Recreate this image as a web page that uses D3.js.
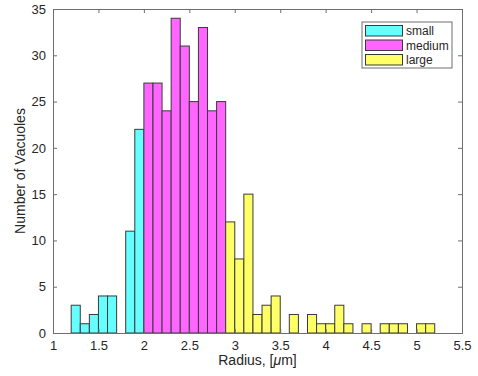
<!DOCTYPE html>
<html>
<head>
<meta charset="utf-8">
<script src="https://cdn.jsdelivr.net/npm/d3@7"></script>
<style>
  body { margin: 0; background: #fff; }
  text { font-family: Arial, "Liberation Sans", Helvetica, sans-serif; }
</style>
</head>
<body>
<div id="chart"></div>
<script>
// Histogram bins are 0.1 wide, each group starts at its own left edge
const binWidth = 0.1;
const smallStart = 1.2;
const smallCounts = [3, 1, 2, 4, 4, 0, 11, 22];
const mediumStart = 2.0;
const mediumCounts = [27, 27, 24, 34, 31, 25, 33, 24, 25];
const largeStart = 2.9;
const largeCounts = [12, 8, 15, 2, 3, 4, 0, 2, 0, 2, 1, 1, 3, 1, 0, 1, 0, 1, 1, 1, 0, 1, 1];

const groupNames = ['small', 'medium', 'large'];
const groupColors = ['#66ffff', '#ff66ff', '#ffff66'];

const xTicks = [1, 1.5, 2, 2.5, 3, 3.5, 4, 4.5, 5, 5.5];
const yTicks = [0, 5, 10, 15, 20, 25, 30, 35];

const width = 478, height = 376;
const margin = { top: 9, right: 16, bottom: 43, left: 53 };

const svg = d3.select('#chart').append('svg')
    .attr('width', width)
    .attr('height', height);

const x = d3.scaleLinear().domain([1, 5.5]).range([margin.left, width - margin.right]);
const y = d3.scaleLinear().domain([0, 35]).range([height - margin.bottom, margin.top]);

// construir los bins
function toBins(start, counts, group) {
    return counts.map((c, i) => ({
        x0: +(start + i * binWidth).toFixed(2),
        x1: +(start + (i + 1) * binWidth).toFixed(2),
        count: c,
        group: group
    }));
}
const groups = [
    toBins(smallStart, smallCounts, 0),
    toBins(mediumStart, mediumCounts, 1),
    toBins(largeStart, largeCounts, 2)
];

const axisColor = '#262626';
const lineColor = '#6e6e6e';

// Barras
groups.forEach(bins => {
    svg.append('g').selectAll('rect')
        .data(bins.filter(d => d.count > 0))
        .join('rect')
        .attr('x', d => x(d.x0))
        .attr('y', d => y(d.count))
        .attr('width', d => x(d.x1) - x(d.x0))
        .attr('height', d => y(0) - y(d.count))
        .attr('fill', d => groupColors[d.group])
        .attr('stroke', '#3a3a3a')
        .attr('stroke-width', 1);
});

// Ejes
const tickLen = 4;
const xAxis = d3.axisBottom(x).tickValues(xTicks).tickSize(-tickLen).tickPadding(8)
    .tickFormat(d3.format('~g'));
const yAxis = d3.axisLeft(y).tickValues(yTicks).tickSize(-tickLen).tickPadding(7);

const gx = svg.append('g')
    .attr('transform', `translate(0,${y(0)})`)
    .call(xAxis);
const gy = svg.append('g')
    .attr('transform', `translate(${x(1)},0)`)
    .call(yAxis);
const gxTop = svg.append('g')
    .attr('transform', `translate(0,${y(35)})`)
    .call(d3.axisTop(x).tickValues(xTicks).tickSize(-tickLen).tickFormat(''));
const gyRight = svg.append('g')
    .attr('transform', `translate(${x(5.5)},0)`)
    .call(d3.axisRight(y).tickValues(yTicks).tickSize(-tickLen).tickFormat(''));

[gx, gy, gxTop, gyRight].forEach(g => {
    g.select('.domain').attr('stroke', lineColor);
    g.selectAll('.tick line').attr('stroke', lineColor);
    g.selectAll('.tick text')
        .attr('fill', axisColor)
        .attr('font-size', '13px');
});

// Título de ejes
svg.append('text')
    .attr('x', (x(1) + x(5.5)) / 2)
    .attr('y', 365)
    .attr('text-anchor', 'middle')
    .attr('fill', axisColor)
    .attr('font-size', '14px')
    .call(t => {
        t.append('tspan').text('Radius, [');
        t.append('tspan').attr('font-style', 'italic').text('\u03bc');
        t.append('tspan').text('m]');
    });

svg.append('text')
    .attr('transform', `translate(25,${(y(0) + y(35)) / 2}) rotate(-90)`)
    .attr('text-anchor', 'middle')
    .attr('fill', axisColor)
    .attr('font-size', '14px')
    .text('Number of Vacuoles');

// Leyenda
const legend = svg.append('g').attr('transform', 'translate(362,22)');
legend.append('rect')
    .attr('width', 90).attr('height', 46)
    .attr('fill', '#fff')
    .attr('stroke', lineColor);
groupNames.forEach((name, i) => {
    legend.append('rect')
        .attr('x', 3.5).attr('y', 3.5 + i * 14.5)
        .attr('width', 37).attr('height', 10.5)
        .attr('fill', groupColors[i])
        .attr('stroke', '#3a3a3a');
    legend.append('text')
        .attr('x', 44).attr('y', 9 + i * 14.5)
        .attr('dy', '0.35em')
        .attr('fill', axisColor)
        .attr('font-size', '12px')
        .text(name);
});
</script>
</body>
</html>
